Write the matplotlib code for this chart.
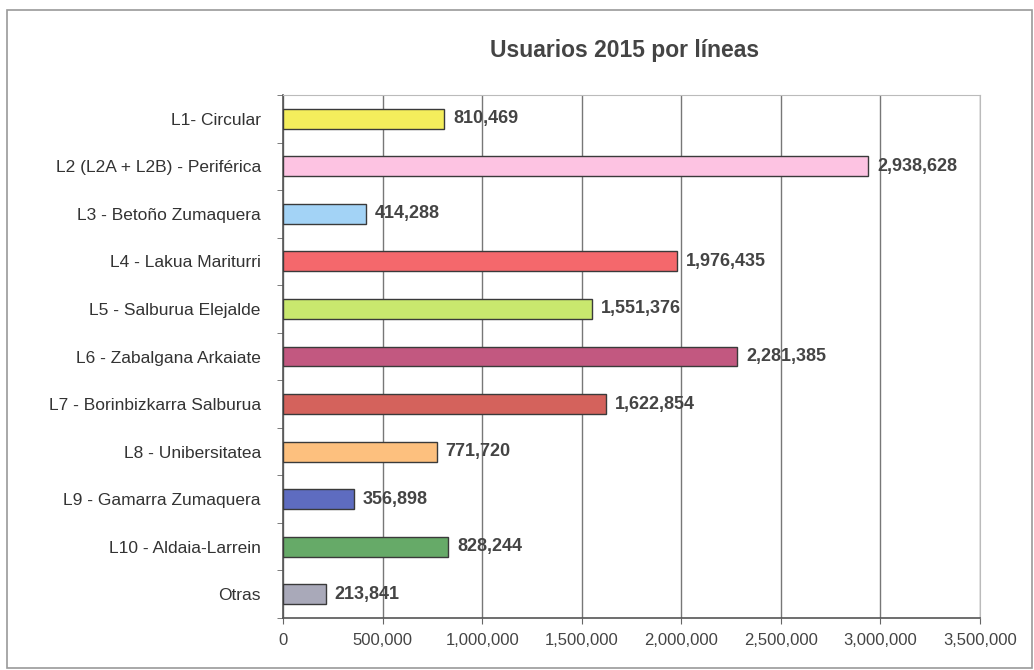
import matplotlib
matplotlib.use("Agg")
import matplotlib.pyplot as plt
from matplotlib.patches import Rectangle
from matplotlib.ticker import FuncFormatter, FixedLocator

plt.rcParams['font.family'] = ['Liberation Sans', 'DejaVu Sans']

categories = ["L1- Circular", "L2 (L2A + L2B) - Periférica", "L3 - Betoño Zumaquera",
              "L4 - Lakua Mariturri", "L5 - Salburua Elejalde", "L6 - Zabalgana Arkaiate",
              "L7 - Borinbizkarra Salburua", "L8 - Unibersitatea", "L9 - Gamarra Zumaquera",
              "L10 - Aldaia-Larrein", "Otras"]
values = [810469, 2938628, 414288, 1976435, 1551376, 2281385, 1622854, 771720, 356898, 828244, 213841]
colors = ["#F4EE5C", "#FDC3E2", "#A3D3F6", "#F4686C", "#C9E86E", "#C25880",
          "#D4625C", "#FDC07E", "#5E6CC0", "#66AA68", "#A9A9B9"]
xticks = [0, 500000, 1000000, 1500000, 2000000, 2500000, 3000000, 3500000]

fig = plt.figure(figsize=(10.34, 6.70), dpi=100)
W, H = 1034, 670
ax = fig.add_axes([283 / W, 1 - 618 / H, (980 - 283) / W, (618 - 95) / H])

# frame around the figure
fig.patches.append(Rectangle((7 / W, 2 / H), 1 - 9 / W, 1 - 12 / H, transform=fig.transFigure,
                             fill=False, edgecolor="#9a9a9a", linewidth=1.2))

y = list(range(len(categories)))
ax.barh(y, values, height=0.42, color=colors, edgecolor="#3a3a3a", linewidth=1.0, zorder=3)
ax.set_ylim(len(categories) - 0.5, -0.5)
ax.set_xlim(0, 3500000)
ax.set_yticks(y)
ax.set_yticklabels(categories, fontsize=12.5, color="#333333")
ax.yaxis.set_minor_locator(FixedLocator([i - 0.5 for i in range(len(categories) + 1)]))
ax.tick_params(axis='y', which='major', length=0, pad=16)
ax.tick_params(axis='y', which='minor', length=4, direction='out', color="#666666")
ax.set_xticks(xticks)
ax.xaxis.set_major_formatter(FuncFormatter(lambda v, p: f"{int(v):,}"))
ax.tick_params(axis='x', labelsize=12, labelcolor="#444444", length=4, color="#666666", pad=7)
ax.grid(axis='x', color="#777777", linewidth=1.0, zorder=0)
for s in ['top', 'right']:
    ax.spines[s].set_color("#bbbbbb")
for s in ['left', 'bottom']:
    ax.spines[s].set_color("#555555")
    ax.spines[s].set_linewidth(1.2)

for yi, v in zip(y, values):
    ax.text(v + 45000, yi, f"{v:,}", va='center', ha='left', fontsize=13,
            fontweight='bold', color="#444444", zorder=4)

fig.text(625 / W, 1 - 50 / H, "Usuarios 2015 por líneas", ha='center', va='center',
         fontsize=16.5, fontweight='bold', color="#444444")

fig.savefig("out.png", dpi=100)
